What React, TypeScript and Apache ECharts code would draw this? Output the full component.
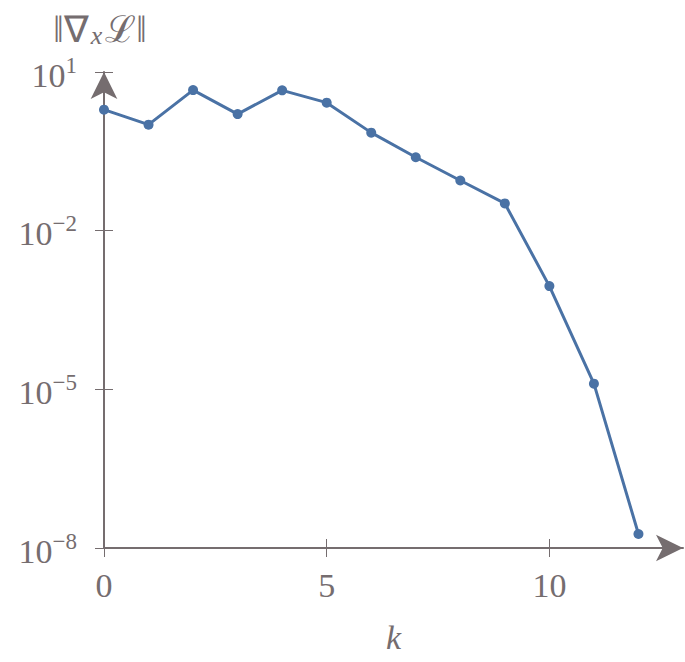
import React, { useEffect, useRef } from 'react';
import * as echarts from 'echarts';

const iterations = [0, 1, 2, 3, 4, 5, 6, 7, 8, 9, 10, 11, 12];
const gradNorm = [1.94, 1.01, 4.55, 1.6, 4.5, 2.63, 0.714, 0.244, 0.0887, 0.0327, 8.95e-4, 1.28e-5, 1.84e-8];
const xTicks = [0, 5, 10];
const yTicks = [1e-8, 1e-5, 1e-2, 1e1];
const xName = 'k';

const GREY = '#756d6f';
const BLUE = '#4a72a5';
const FONT = "'Liberation Serif', serif";

function supLabel(v: number) {
  const e = Math.round(Math.log10(v));
  const s = e < 0 ? '\u2212' + -e : String(e);
  return `{b|10}{s|${s}}`;
}

export default function App() {
  const ref = useRef<HTMLDivElement>(null);
  useEffect(() => {
    if (!ref.current) return;
    const chart = echarts.init(ref.current, undefined, { renderer: 'svg' });
    const rich = {
      b: { fontFamily: FONT, fontSize: 34, color: GREY, padding: [6, 0, 0, 0] },
      s: { fontFamily: FONT, fontSize: 23, color: GREY, padding: [0, 0, 14, 0] },
    };
    chart.setOption({
      animation: false,
      backgroundColor: '#ffffff',
      grid: { left: 104, right: 2, top: 72, bottom: 114, containLabel: false },
      xAxis: [
        {
          type: 'value',
          min: 0,
          max: 13,
          position: 'bottom',
          axisLine: {
            show: true,
            onZero: false,
            lineStyle: { color: GREY, width: 2 },
            symbol: ['none', 'arrow'],
            symbolSize: [20, 27],
            symbolOffset: [0, 0],
          },
          axisTick: { show: true, length: 9, customValues: xTicks, lineStyle: { color: GREY, width: 1 } },
          axisLabel: { customValues: xTicks, fontFamily: FONT, fontSize: 34, color: GREY, margin: 20 },
          splitLine: { show: false },
          name: xName,
          nameLocation: 'middle',
          nameGap: 72,
          nameTextStyle: { fontFamily: FONT, fontStyle: 'italic', fontSize: 34, color: GREY },
        },
        {
          type: 'value',
          min: 0,
          max: 13,
          position: 'bottom',
          axisLine: { show: false, onZero: false },
          axisTick: { show: true, inside: true, length: 9, customValues: xTicks, lineStyle: { color: GREY, width: 1 } },
          axisLabel: { show: false },
          splitLine: { show: false },
        },
      ],
      yAxis: [
        {
          type: 'log',
          logBase: 10,
          min: 1e-8,
          max: 10,
          position: 'left',
          axisLine: {
            show: true,
            onZero: false,
            lineStyle: { color: GREY, width: 2 },
            symbol: ['none', 'arrow'],
            symbolSize: [20, 27],
            symbolOffset: [0, 0],
          },
          axisTick: { show: true, length: 9, customValues: yTicks, lineStyle: { color: GREY, width: 1 } },
          axisLabel: { customValues: yTicks, formatter: supLabel, rich, margin: 27 },
          minorTick: { show: false },
          splitLine: { show: false },
          name: '{t|\u2016\u2207}{x|x}{t|\u2112\u2016}',
          nameLocation: 'end',
          nameGap: 24,
          nameTextStyle: {
            padding: [0, 8, 0, 0],
            rich: {
              t: { fontFamily: FONT, fontSize: 37, color: GREY },
              x: { fontFamily: FONT, fontSize: 26, fontStyle: 'italic', color: GREY, padding: [12, 3, 0, 2] },
            },
          },
        },
        {
          type: 'log',
          logBase: 10,
          min: 1e-8,
          max: 10,
          position: 'left',
          axisLine: { show: false, onZero: false },
          axisTick: { show: true, inside: true, length: 9, customValues: yTicks, lineStyle: { color: GREY, width: 1 } },
          axisLabel: { show: false },
          minorTick: { show: false },
          splitLine: { show: false },
        },
      ],
      series: [
        {
          type: 'line',
          xAxisIndex: 0,
          yAxisIndex: 0,
          data: iterations.map((k, i) => [k, gradNorm[i]]),
          symbol: 'circle',
          symbolSize: 10,
          showSymbol: true,
          lineStyle: { color: BLUE, width: 3 },
          itemStyle: { color: BLUE },
        },
      ],
    });
    return () => chart.dispose();
  }, []);
  return <div ref={ref} style={{ position: 'fixed', left: 0, top: 0, width: 685, height: 662 }} />;
}
